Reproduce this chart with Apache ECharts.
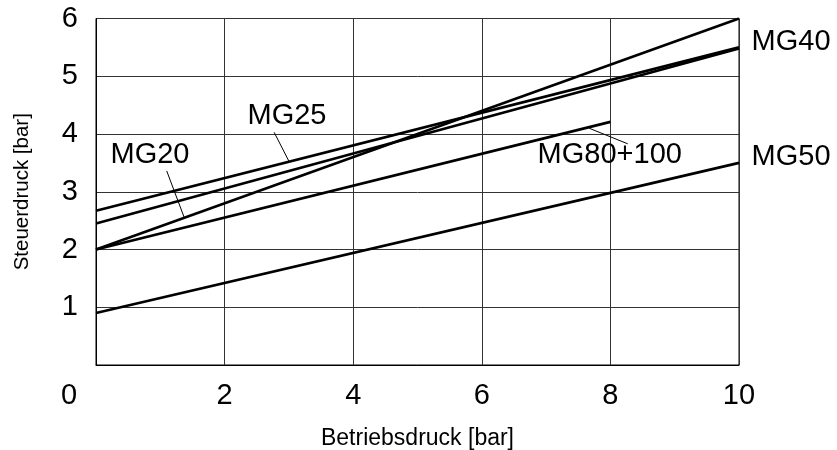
<!DOCTYPE html>
<html>
<head>
<meta charset="utf-8">
<script src="https://cdn.jsdelivr.net/npm/echarts@6/dist/echarts.min.js"></script>
<style>
html,body{margin:0;padding:0;background:#fff;}
#chart{width:837px;height:450px;}
</style>
</head>
<body>
<div id="chart"></div>
<script>
// Betriebsdruck [bar] (x) vs Steuerdruck [bar] (y)
const xTicks = [0, 2, 4, 6, 8, 10];
const yTicks = [0, 1, 2, 3, 4, 5, 6];

const mg20 = [[0, 2.0], [10, 6.0]];
const mg25 = [[0, 2.67], [10, 5.5]];
const mg40 = [[0, 2.45], [10, 5.48]];
const mg50 = [[0, 0.9], [10, 3.5]];
const mg80 = [[0, 2.0], [8, 4.21]];

const seriesNames = ['MG20', 'MG25', 'MG40', 'MG50', 'MG80+100'];

// label anchor positions (data coordinates)
const labelPoints = [
  [0.84, 3.64, 'MG20'],
  [2.97, 4.31, 'MG25'],
  [10.81, 5.59, 'MG40'],
  [10.81, 3.60, 'MG50'],
  [7.99, 3.64, 'MG80+100']
];

// leader lines (data coordinates)
const leaderMG20 = [[1.10, 3.36], [1.37, 2.56]];
const leaderMG25 = [[2.77, 4.03], [3.00, 3.53]];
const leaderMG80 = [[7.67, 4.10], [8.27, 3.83]];

const FONT = '"Liberation Sans", Arial, Helvetica, sans-serif';

const chart = echarts.init(document.getElementById('chart'));

function curve(name, data) {
  return {
    name: name, type: 'line', data: data, symbol: 'none', silent: true,
    lineStyle: { color: '#000', width: 2.6 }, z: 3
  };
}
function leader(data) {
  return {
    type: 'line', data: data, symbol: 'none', silent: true,
    lineStyle: { color: '#000', width: 1 }, z: 3
  };
}

chart.setOption({
  animation: false,
  backgroundColor: '#fff',
  grid: {
    left: 96, right: 98, top: 18.5, bottom: 85,
    show: true, borderColor: '#000', borderWidth: 1, containLabel: false,
    outerBoundsMode: 'none'
  },
  xAxis: {
    type: 'value', min: xTicks[0], max: xTicks[xTicks.length - 1], interval: 2,
    name: 'Betriebsdruck [bar]', nameLocation: 'middle', nameGap: 62,
    nameTextStyle: { fontFamily: FONT, fontSize: 23, color: '#000' },
    axisLine: { show: true, lineStyle: { color: '#000', width: 1 } },
    axisTick: { show: false },
    axisLabel: {
      fontFamily: FONT, fontSize: 29, color: '#000', margin: 16,
      formatter: function (v) { return v === 0 ? '{z|0}' : String(v); },
      rich: { z: { fontFamily: FONT, fontSize: 29, color: '#000', padding: [0, 54, 0, 0] } }
    },
    splitLine: { show: true, lineStyle: { color: '#333', width: 1 } }
  },
  yAxis: {
    type: 'value', min: yTicks[0], max: yTicks[yTicks.length - 1], interval: 1,
    name: 'Steuerdruck [bar]', nameLocation: 'middle', nameGap: 63, nameRotate: 90,
    nameTextStyle: { fontFamily: FONT, fontSize: 20.5, color: '#000' },
    axisLine: { show: true, lineStyle: { color: '#000', width: 1 } },
    axisTick: { show: false },
    axisLabel: {
      fontFamily: FONT, fontSize: 29, color: '#000', margin: 18,
      formatter: function (v) { return v === 0 ? '' : String(v); }
    },
    splitLine: { show: true, lineStyle: { color: '#333', width: 1 } }
  },
  series: [
    curve(seriesNames[0], mg20),
    curve(seriesNames[1], mg25),
    curve(seriesNames[2], mg40),
    curve(seriesNames[3], mg50),
    curve(seriesNames[4], mg80),
    leader(leaderMG20),
    leader(leaderMG25),
    leader(leaderMG80),
    {
      type: 'scatter', symbolSize: 0, clip: false, silent: true, z: 4,
      itemStyle: { color: '#000', opacity: 1 },
      data: labelPoints,
      label: {
        show: true, position: 'inside', opacity: 1,
        formatter: function (p) { return p.data[2]; },
        fontFamily: FONT, fontSize: 29, color: '#000',
        textBorderWidth: 0
      }
    }
  ]
});
</script>
</body>
</html>
